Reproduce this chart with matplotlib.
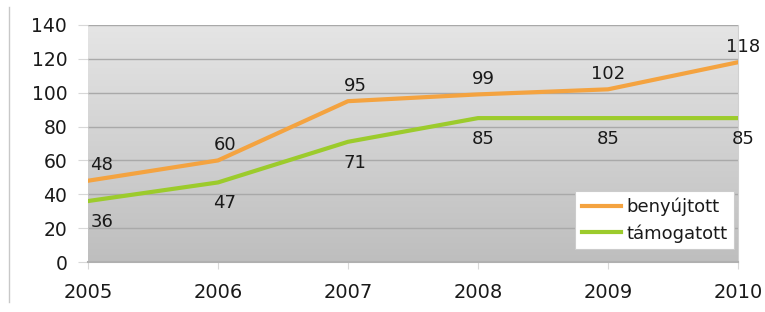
import numpy as np
import matplotlib
matplotlib.use("Agg")
import matplotlib.pyplot as plt
from matplotlib.lines import Line2D
from matplotlib.colors import LinearSegmentedColormap

years = [2005, 2006, 2007, 2008, 2009, 2010]
benyujtott = [48, 60, 95, 99, 102, 118]
tamogatott = [36, 47, 71, 85, 85, 85]
series_names = ["benyújtott", "támogatott"]
colors = ["#f4a340", "#9ccb2c"]
# horizontal label offsets (pixels-ish, in points)
label_dx = [10, 5, 5, 4, 0, 4]

plt.rcParams['font.family'] = ['DejaVu Sans']

fig = plt.figure(figsize=(7.65, 3.12), dpi=100)
ax = fig.add_axes([88/765, 50/312, 650/765, 237/312])

# gradient background
cmap = LinearSegmentedColormap.from_list("bg", ["#e5e5e5", "#bebebe"])
grad = np.linspace(0, 1, 256).reshape(-1, 1)
ax.imshow(grad, aspect='auto', cmap=cmap, extent=[0, 1, 0, 1],
          transform=ax.transAxes, zorder=0)

ax.set_xlim(2005, 2010)
ax.set_ylim(0, 140)
ax.set_yticks(range(0, 141, 20))
ax.set_xticks(years)
ax.yaxis.grid(True, color="#a9a9a9", linewidth=1.0, zorder=1)
ax.set_axisbelow(True)

for s in ["top", "left"]:
    ax.spines[s].set_visible(False)
ax.spines["bottom"].set_color("#b0b0b0")
ax.spines["right"].set_color("#d0d0d0")
ax.spines["bottom"].set_linewidth(1.5)

ax.tick_params(axis='y', length=7, color="#d8d8d8", pad=8, labelsize=13.5, labelcolor="#1a1a1a")
ax.tick_params(axis='x', length=5, color="#d8d8d8", pad=10, labelsize=14, labelcolor="#1a1a1a")

ax.plot(years, benyujtott, color=colors[0], lw=3, label=series_names[0], zorder=3)
ax.plot(years, tamogatott, color=colors[1], lw=3, label=series_names[1], zorder=3)

for i, (x, v) in enumerate(zip(years, benyujtott)):
    ax.annotate(str(v), (x, v), xytext=(label_dx[i], 11), textcoords='offset points',
                ha='center', va='center', fontsize=13, color="#1a1a1a", zorder=4,
                annotation_clip=False)
for i, (x, v) in enumerate(zip(years, tamogatott)):
    ax.annotate(str(v), (x, v), xytext=(label_dx[i], -15), textcoords='offset points',
                ha='center', va='center', fontsize=13, color="#1a1a1a", zorder=4,
                annotation_clip=False)

leg = ax.legend(loc='lower right', bbox_to_anchor=(0.994, 0.055), fontsize=13,
                frameon=True, fancybox=False, edgecolor="#cccccc",
                framealpha=1.0, handlelength=2.2, handletextpad=0.3,
                borderpad=0.35, labelspacing=0.45, borderaxespad=0)
leg.get_frame().set_linewidth(0.8)
for t in leg.get_texts():
    t.set_color("#1a1a1a")

fig.add_artist(Line2D([9/765, 9/765], [10/312, 305/312], color="#c8c8c8", lw=1))

fig.savefig("out.png", dpi=100)
